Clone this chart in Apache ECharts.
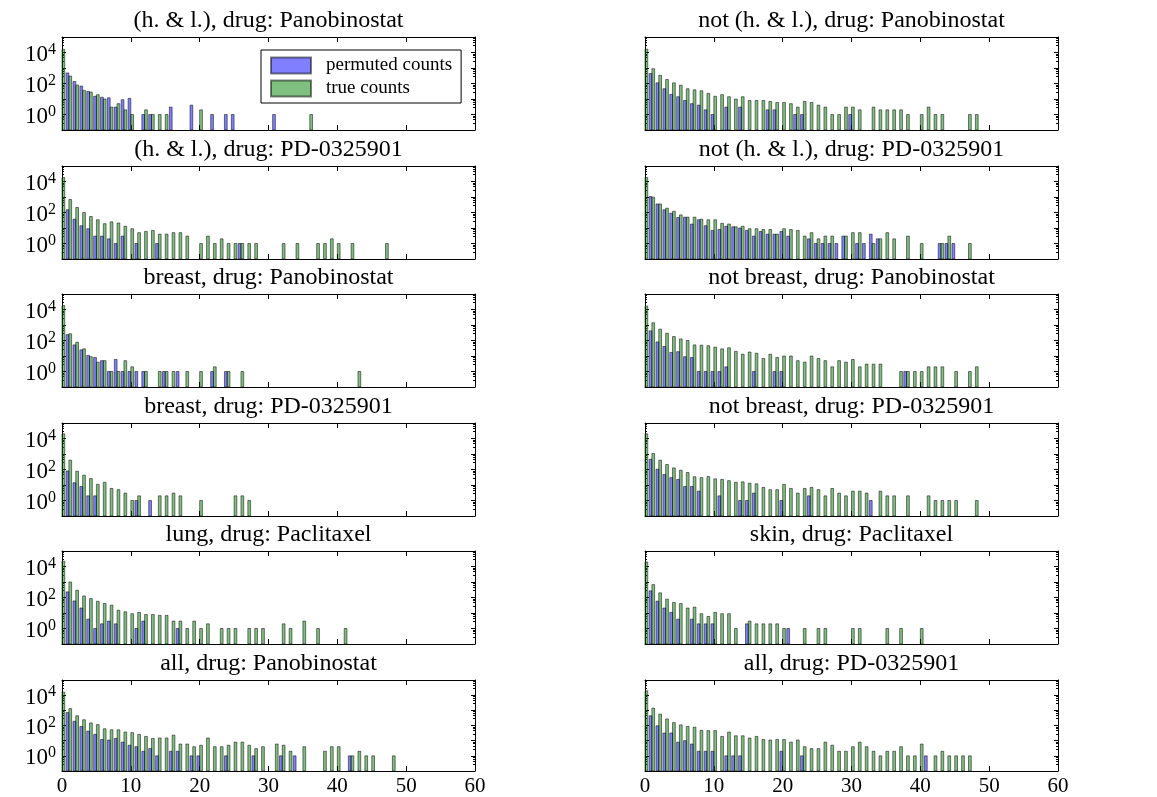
<!DOCTYPE html>
<html>
<head>
<meta charset="utf-8">
<script src="https://cdn.jsdelivr.net/npm/echarts@6/dist/echarts.min.js"></script>
<style>
  html, body { margin: 0; padding: 0; background: #fff; }
  #chart { width: 1157px; height: 797px; }
</style>
</head>
<body>
<div id="chart"></div>
<script>
// Histogram counts per bin (bin k = number of hits k, k = 0..48).
// "Perm" = permuted counts, "True" = true counts; 0 means an empty bin.
const hlPanoPerm = [null,480,135,68,31,15,13,12,3,9,11,0,1,1,0,0,3,0,0,4,0,0,1,0,1,1,0,0,0,0,0,1,0,0,0,0,0,0,0,0,0,0,0,0,0,0,0,0,0];
const hlPanoTrue = [16000,300,80,36,28,19,10,3,5,2,1,0,2,1,1,1,0,0,0,0,2,0,0,0,0,0,0,0,0,0,0,0,0,0,0,0,1,0,0,0,0,0,0,0,0,0,0,0,0];

const notHlPanoPerm = [null,440,110,46,20,14,8,5,4,2,1,0,3,0,3,0,0,0,2,2,0,0,1,1,0,0,0,0,0,0,1,0,0,0,0,0,0,0,0,0,0,0,0,0,0,0,0,0,0];
const notHlPanoTrue = [16500,900,340,180,110,78,46,39,34,23,15,19,14,10,14,8,8,8,7,6,6,5,3,7,6,4,3,1,1,3,3,2,0,3,2,2,2,2,1,0,1,3,1,1,0,0,0,1,1];

const hlPdPerm = [null,150,37,14,9,3,3,2,1,3,0,1,0,0,1,0,0,0,0,0,0,0,0,0,0,0,1,0,0,0,0,0,0,0,0,0,0,0,0,0,0,0,0,0,0,0,0,0,0];
const hlPdTrue = [18000,700,210,100,55,34,19,25,21,13,9,5,6,7,4,4,5,5,3,0,1,3,1,2,1,1,1,1,1,0,0,0,1,0,1,0,0,1,1,2,1,0,1,0,0,0,0,1,0];

const notHlPdPerm = [null,1070,355,150,90,48,50,18,34,14,7,8,13,12,10,7,3,6,4,4,6,3,0,0,2,1,1,1,1,3,0,1,1,4,2,0,0,0,0,0,0,0,0,1,1,1,0,0,0];
const notHlPdTrue = [18000,960,355,190,120,70,50,50,37,34,34,20,18,12,13,9,9,8,8,4,9,8,7,3,5,2,3,3,0,3,5,5,0,1,2,5,2,0,3,0,1,0,0,1,3,0,0,1,0];

const breastPanoPerm = [null,240,52,25,11,8,5,1,6,1,1,1,1,0,0,1,0,1,0,0,0,0,1,0,1,0,0,0,0,0,0,0,0,0,0,0,0,0,0,0,0,0,0,0,0,0,0,0,0];
const breastPanoTrue = [18000,270,78,29,9,4,5,1,1,5,2,0,1,0,1,1,1,0,1,0,1,0,2,0,1,0,1,0,0,0,0,0,0,0,0,0,0,0,0,0,0,0,0,1,0,0,0,0,0];

const notBreastPanoPerm = [null,420,81,41,17,19,9,8,1,1,1,1,2,0,0,0,1,0,0,1,1,0,0,0,0,0,0,0,0,0,0,0,0,0,0,0,0,0,1,0,0,0,0,0,0,0,0,0,0];
const notBreastPanoTrue = [16600,1400,540,295,180,126,100,52,50,46,37,29,34,20,13,18,15,7,13,8,10,10,5,4,10,7,5,2,5,4,6,2,3,3,3,0,0,1,1,1,1,2,2,2,0,1,0,1,2];

const breastPdPerm = [null,81,14,8,2,2,0,0,0,0,0,1,0,1,0,0,0,0,0,0,0,0,0,0,0,0,0,0,0,0,0,0,0,0,0,0,0,0,0,0,0,0,0,0,0,0,0,0,0];
const breastPdTrue = [20000,400,77,43,26,11,15,6,5,3,1,2,0,0,2,2,3,2,0,0,1,0,0,0,0,2,2,1,0,0,0,0,0,0,0,0,0,0,0,0,0,0,0,0,0,0,0,0,0];

const notBreastPdPerm = [null,460,105,48,30,23,8,8,4,0,0,2,0,0,1,1,3,0,0,0,1,0,0,0,2,0,0,0,0,0,0,0,0,1,0,0,0,0,0,0,0,0,0,0,0,0,0,0,0];
const notBreastPdTrue = [20000,1070,400,210,127,90,64,34,30,35,25,23,19,15,16,13,12,7,5,5,11,6,3,6,7,5,2,6,3,2,4,4,3,0,4,2,2,0,2,0,0,2,1,1,1,1,0,0,1];

const lungPacliPerm = [null,230,60,21,4,1,2,3,2,0,0,1,3,0,0,0,0,1,0,0,0,0,0,0,0,0,0,0,0,0,0,0,0,0,0,0,0,0,0,0,0,0,0,0,0,0,0,0,0];
const lungPacliTrue = [22000,1000,295,126,85,57,41,32,15,12,9,11,8,8,7,7,3,3,1,3,1,2,0,1,1,1,0,1,1,1,0,0,2,1,0,3,0,1,0,0,0,1,0,0,0,0,0,0,0];

const skinPacliPerm = [null,270,58,21,11,4,0,4,2,2,2,0,0,0,0,2,0,0,0,0,0,1,0,0,0,0,0,0,0,0,0,0,0,0,0,0,0,0,0,0,0,0,0,0,0,0,0,0,0];
const skinPacliTrue = [19500,680,200,78,48,41,21,24,9,6,11,9,9,1,0,3,2,2,2,2,1,0,0,1,0,1,1,0,0,0,1,1,0,0,0,1,0,1,0,0,1,0,0,0,0,0,0,0,0];

const allPanoPerm = [null,710,190,86,43,26,12,11,14,8,5,4,2,3,1,0,2,2,0,1,1,0,0,0,1,0,0,0,1,0,0,0,1,0,1,0,0,0,0,0,0,0,1,0,0,0,0,0,0];
const allPanoTrue = [16000,1300,440,240,148,115,61,52,52,37,34,26,19,14,15,15,23,6,6,4,5,15,4,4,5,8,8,5,3,4,0,6,5,2,0,4,0,0,2,4,4,0,1,2,1,1,0,0,1];

const allPdPerm = [null,440,96,32,32,8,10,6,2,2,2,0,1,1,1,0,0,0,0,0,2,0,0,1,0,0,0,0,0,0,0,0,0,0,0,0,0,0,0,0,0,1,0,0,0,0,0,0,0];
const allPdTrue = [19500,1400,560,270,155,110,86,78,48,46,46,19,37,21,21,15,19,12,11,12,12,8,11,4,3,3,8,5,2,2,4,8,4,2,1,2,2,4,1,1,6,0,1,2,1,1,1,1,0];

// Panel titles, left column then right column, top to bottom
const panelTitles = [
  '(h. & l.), drug: Panobinostat', 'not (h. & l.), drug: Panobinostat',
  '(h. & l.), drug: PD-0325901', 'not (h. & l.), drug: PD-0325901',
  'breast, drug: Panobinostat', 'not breast, drug: Panobinostat',
  'breast, drug: PD-0325901', 'not breast, drug: PD-0325901',
  'lung, drug: Paclitaxel', 'skin, drug: Paclitaxel',
  'all, drug: Panobinostat', 'all, drug: PD-0325901'
];
const panelPerm = [hlPanoPerm, notHlPanoPerm, hlPdPerm, notHlPdPerm, breastPanoPerm, notBreastPanoPerm,
                   breastPdPerm, notBreastPdPerm, lungPacliPerm, skinPacliPerm, allPanoPerm, allPdPerm];
const panelTrue = [hlPanoTrue, notHlPanoTrue, hlPdTrue, notHlPdTrue, breastPanoTrue, notBreastPanoTrue,
                   breastPdTrue, notBreastPdTrue, lungPacliTrue, skinPacliTrue, allPanoTrue, allPdTrue];

const seriesNames = ['permuted counts', 'true counts'];
const xTickValues = [0, 10, 20, 30, 40, 50, 60];
const yLabelPowers = [0, 2, 4];

// ---- styling / layout ----
const FONT = 'Liberation Serif';
const Y_MIN = 0.1, Y_MAX = 1e5;
const BAR_W = 0.4;                       // each of the two bars takes 0.4 of a bin
const FILL = ['rgba(0,0,255,0.5)', 'rgba(0,128,0,0.5)'];
const EDGE = 'rgba(0,0,0,0.5)';
const colLeft = [62, 645];
const gridW = 413;
const rowTop = [37, 166, 294, 423, 551, 680];
const gridH = 93;

function toPairs(arr) {
  const out = [];
  arr.forEach((v, k) => { if (v) out.push([k, v]); });
  return out;
}

function barRenderer(offset, fill) {
  return function (params, api) {
    const k = api.value(0);
    const v = api.value(1);
    const tl = api.coord([k + offset, v]);
    const br = api.coord([k + offset + BAR_W, Y_MIN]);
    const cs = params.coordSys;
    const shape = echarts.graphic.clipRectByRect(
      { x: tl[0], y: tl[1], width: br[0] - tl[0], height: br[1] - tl[1] },
      { x: cs.x, y: cs.y, width: cs.width, height: cs.height }
    );
    if (!shape) return;
    return { type: 'rect', shape: shape, style: { fill: fill, stroke: EDGE, lineWidth: 1 } };
  };
}

const grids = [], xAxes = [], yAxes = [], titles = [], series = [];
const spine = { show: true, onZero: false, lineStyle: { color: '#000', width: 1 } };

panelTitles.forEach((title, i) => {
  const col = i % 2, row = Math.floor(i / 2);
  const left = colLeft[col], top = rowTop[row];
  grids.push({ left: left, top: top, width: gridW, height: gridH, containLabel: false });

  titles.push({
    text: title, left: left + gridW / 2, top: top - 28, textAlign: 'center', padding: 0,
    textStyle: { fontFamily: FONT, fontSize: 24, fontWeight: 'normal', color: '#000' }
  });

  ['bottom', 'top'].forEach(pos => {
    xAxes.push({
      type: 'value', gridIndex: i, position: pos, min: 0, max: 60, interval: 10,
      axisLine: spine,
      axisTick: { show: true, inside: true, length: 5, lineStyle: { color: '#000', width: 1 } },
      axisLabel: {
        show: pos === 'bottom' && row === 5, margin: 5,
        fontFamily: FONT, fontSize: 21, color: '#000',
        formatter: v => xTickValues.includes(v) ? String(v) : ''
      },
      splitLine: { show: false }
    });
  });

  ['left', 'right'].forEach(pos => {
    yAxes.push({
      type: 'log', logBase: 10, gridIndex: i, position: pos, min: Y_MIN, max: Y_MAX,
      axisLine: spine,
      axisTick: { show: true, inside: true, length: 4, lineStyle: { color: '#000', width: 1 } },
      minorTick: { show: true, splitNumber: 5, length: 2, lineStyle: { color: '#000', width: 1 } },
      axisLabel: {
        show: pos === 'left' && col === 0, margin: 6,
        padding: [5, 0, 0, 0],
        formatter: v => {
          const e = Math.round(Math.log10(v));
          return yLabelPowers.includes(e) ? '{b|10}{s|' + e + '}' : '';
        },
        rich: {
          b: { fontFamily: FONT, fontSize: 23, color: '#000', lineHeight: 27 },
          s: { fontFamily: FONT, fontSize: 16, color: '#000', lineHeight: 16, verticalAlign: 'top' }
        }
      },
      splitLine: { show: false }
    });
  });

  [panelPerm[i], panelTrue[i]].forEach((arr, s) => {
    series.push({
      type: 'custom', name: seriesNames[s],
      xAxisIndex: 2 * i, yAxisIndex: 2 * i,
      data: toPairs(arr),
      encode: { x: 0, y: 1 },
      renderItem: barRenderer(s === 0 ? -BAR_W : 0, FILL[s]),
      itemStyle: { color: FILL[s], borderColor: EDGE, borderWidth: 1 },
      silent: true, z: 2
    });
  });
});

const chart = echarts.init(document.getElementById('chart'), null, { renderer: 'canvas' });
chart.setOption({
  animation: false,
  backgroundColor: '#fff',
  title: titles,
  grid: grids,
  xAxis: xAxes,
  yAxis: yAxes,
  legend: {
    data: seriesNames, orient: 'vertical', left: 261, top: 50,
    icon: 'rect', itemWidth: 40, itemHeight: 16, itemGap: 4,
    padding: [6, 9, 5, 9], borderColor: '#000', borderWidth: 1, backgroundColor: '#fff',
    textStyle: { fontFamily: FONT, fontSize: 19, color: '#000', lineHeight: 18, padding: [0, 0, 0, 10] },
    selectedMode: false
  },
  series: series
});
</script>
</body>
</html>
